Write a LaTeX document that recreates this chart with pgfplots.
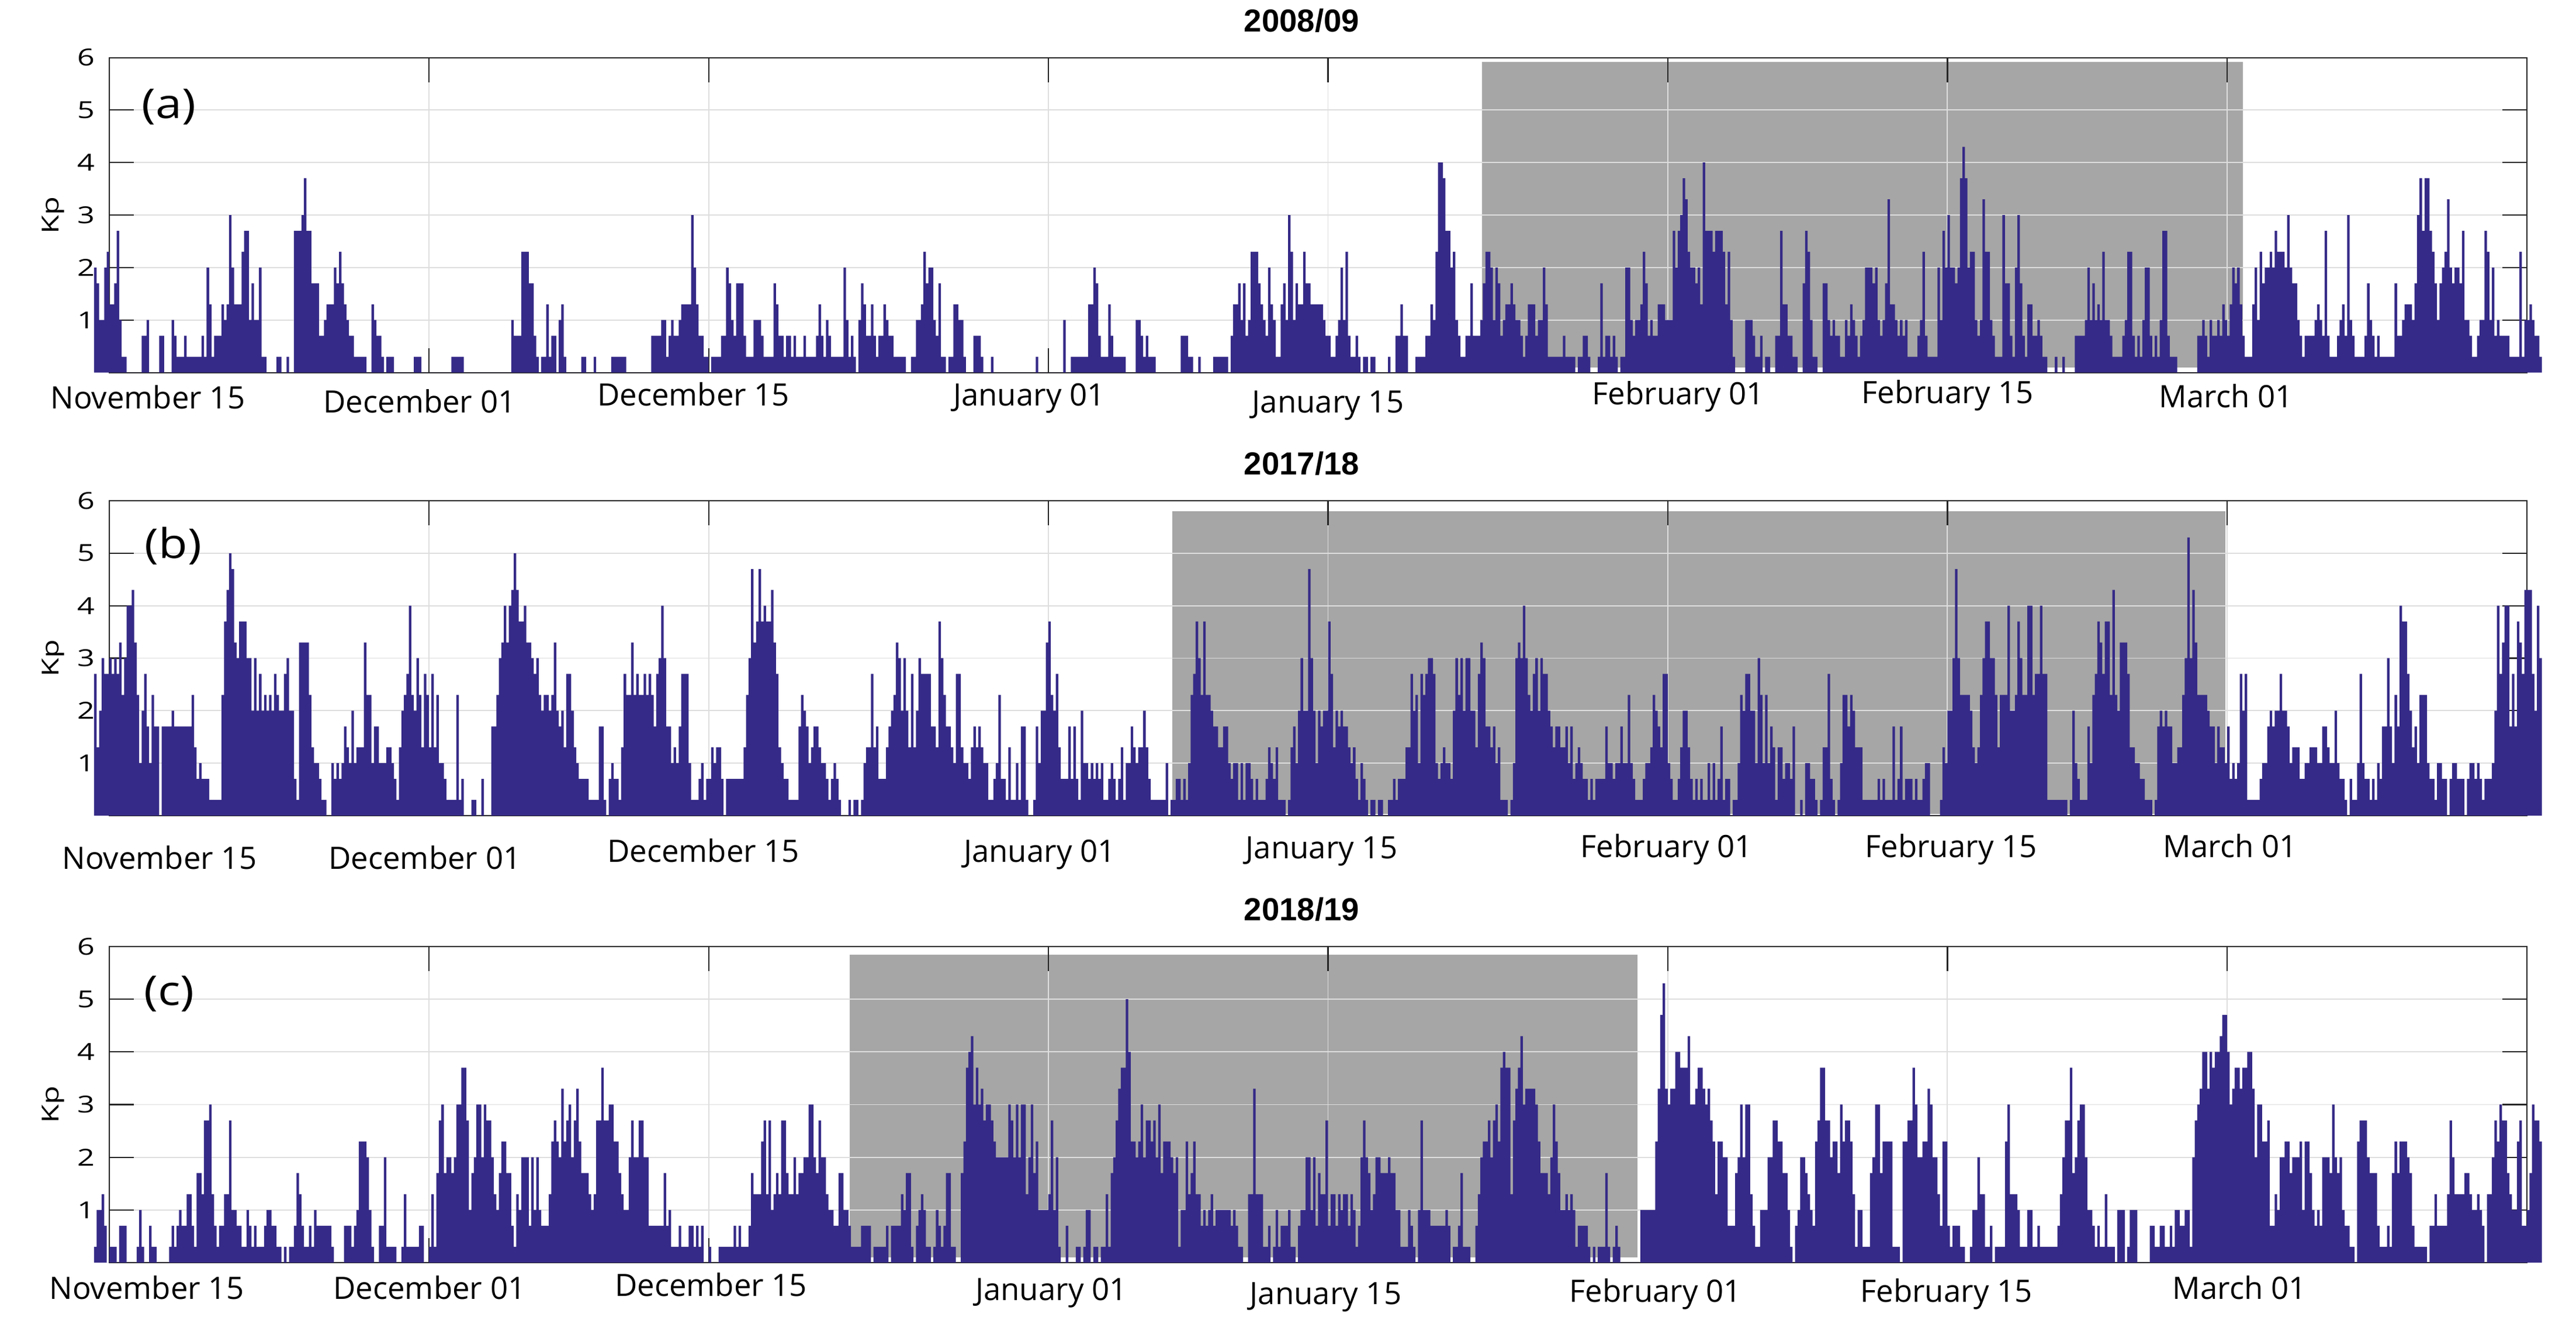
\documentclass[border=0pt]{standalone}
\usepackage{fontspec}
\setmainfont{Open Sans}
\newfontfamily\tickfont[FakeStretch=1.3]{Open Sans}
\newfontfamily\panelfont[FakeStretch=1.15]{Open Sans}
\newfontfamily\titlefont{Liberation Sans}
\usepackage{pgfplots}
\usepackage{pgfplotstable}
\pgfplotsset{compat=1.18}
\definecolor{kpblue}{RGB}{53,42,135}
\definecolor{boxgray}{RGB}{166,166,166}
\definecolor{gridgray}{RGB}{222,222,222}
\definecolor{axisgray}{RGB}{38,38,38}
\newlength\pxu \setlength\pxu{0.01cm}
\newcommand\lab[3]{\raisebox{-#2\pxu}[0pt][0pt]{\makebox[0pt][c]{\hspace*{#1\pxu}\hspace*{#1\pxu}#3}}}

% 3-hourly Kp values, first bin starts at day -0.75 (days counted from November 15)
\pgfplotstableread[row sep=\\,header=false]{
2\\1.7\\1\\1\\2\\2.3\\
1.3\\1.3\\1.7\\2.7\\1\\0.3\\0.3\\0\\
0\\0\\0\\0\\0\\0.7\\0.7\\1\\
0\\0\\0\\0\\0.7\\0.7\\0\\0\\
0\\1\\0.7\\0.3\\0.3\\0.3\\0.7\\0.3\\
0.3\\0.3\\0.3\\0.3\\0.3\\0.7\\0.3\\2\\
1.3\\0.3\\0.7\\0.7\\0.7\\1.3\\1\\1.3\\
3\\2\\1.3\\1.3\\1.3\\2.3\\2.7\\2.7\\
1\\1.7\\1\\1\\2\\0.3\\0.3\\0\\
0\\0\\0\\0.3\\0.3\\0\\0\\0.3\\
0\\0\\2.7\\2.7\\2.7\\3\\3.7\\2.7\\
2.7\\1.7\\1.7\\1.7\\0.7\\0.7\\1\\1.3\\
1.3\\1.3\\2\\1.7\\2.3\\1.7\\1.3\\1\\
0.7\\0.7\\0.3\\0.3\\0.3\\0.3\\0.3\\0\\
0\\1.3\\1\\0.7\\0.7\\0.3\\0\\0.3\\
0.3\\0.3\\0\\0\\0\\0\\0\\0\\
0\\0\\0.3\\0.3\\0.3\\0\\0\\0\\
0\\0\\0\\0\\0\\0\\0\\0\\
0\\0.3\\0.3\\0.3\\0.3\\0.3\\0\\0\\
0\\0\\0\\0\\0\\0\\0\\0\\
0\\0\\0\\0\\0\\0\\0\\0\\
0\\1\\0.7\\0.7\\0.7\\2.3\\2.3\\2.3\\
1.7\\1.7\\0.7\\0.3\\0\\0.3\\0.3\\1.3\\
0.3\\0.7\\0.7\\0\\1\\1.3\\0.3\\0\\
0\\0\\0\\0\\0\\0.3\\0.3\\0\\
0\\0\\0.3\\0\\0\\0\\0\\0\\
0\\0.3\\0.3\\0.3\\0.3\\0.3\\0.3\\0\\
0\\0\\0\\0\\0\\0\\0\\0\\
0\\0.7\\0.7\\0.7\\0.7\\1\\1\\0.3\\
0.7\\1\\0.7\\0.7\\1\\1.3\\1.3\\1.3\\
1.3\\3\\2\\1.3\\0.7\\0.7\\0.3\\0.3\\
0\\0.3\\0.3\\0.3\\0.3\\0.7\\0.7\\2\\
1.7\\1\\0.7\\1.7\\1.7\\1.7\\0.7\\0.3\\
0.3\\0.3\\1\\1\\1\\0.7\\0.3\\0.3\\
0.3\\0.3\\1.7\\1.3\\0.7\\0.7\\0.3\\0.7\\
0.7\\0.3\\0.7\\0.3\\0.3\\0.3\\0.7\\0.3\\
0.3\\0.3\\0.3\\0.7\\1.3\\0.7\\0.3\\1\\
0.7\\0.3\\0.3\\0.3\\0.3\\0.3\\2\\1\\
0.3\\0.7\\0.3\\0\\1\\1.7\\1.3\\0.7\\
0.7\\1.3\\0.7\\0.3\\0.7\\0.7\\1.3\\1\\
0.7\\0.7\\0.3\\0.3\\0.3\\0.3\\0.3\\0\\
0\\0.3\\0.3\\1\\1\\1.3\\2.3\\1.7\\
2\\2\\1\\0.7\\1.7\\0.3\\0.3\\0\\
0.3\\0.3\\1.3\\1.3\\1\\1\\0.3\\0\\
0\\0\\0.7\\0.7\\0.7\\0.3\\0\\0\\
0\\0.3\\0\\0\\0\\0\\0\\0\\
0\\0\\0\\0\\0\\0\\0\\0\\
0\\0\\0\\0.3\\0\\0\\0\\0\\
0\\0\\0\\0\\0\\0\\1\\0\\
0\\0.3\\0.3\\0.3\\0.3\\0.3\\0.3\\0.3\\
1.3\\1.3\\2\\1.7\\0.7\\0.3\\0.3\\0.3\\
1.3\\0.7\\0.3\\0.3\\0.3\\0.3\\0.3\\0\\
0\\0\\0\\1\\1\\0.7\\0.3\\0.7\\
0.3\\0.3\\0.3\\0\\0\\0\\0\\0\\
0\\0\\0\\0\\0\\0.7\\0.7\\0.7\\
0.3\\0.3\\0\\0\\0.3\\0\\0\\0\\
0\\0\\0.3\\0.3\\0.3\\0.3\\0.3\\0.3\\
0\\0.7\\1.3\\1.3\\1.7\\1\\1.7\\0.7\\
1\\2.3\\2.3\\2.3\\1.7\\1.3\\1\\0.7\\
2\\1.3\\1\\0.3\\0.3\\1.3\\1.7\\1\\
3\\2.3\\1\\1.7\\1.3\\1.3\\2.3\\1.7\\
1.7\\1.3\\1.3\\1.3\\1.3\\1.3\\1\\0.7\\
0.7\\0.3\\0.3\\0.7\\1\\2\\1\\2.3\\
0.7\\0.3\\0.3\\0.7\\0.3\\0\\0.3\\0.3\\
0\\0.3\\0.3\\0\\0\\0\\0\\0\\
0.3\\0\\0\\0.7\\0.7\\1.3\\0.7\\0.7\\
0\\0\\0\\0.3\\0.3\\0.3\\0.3\\0.7\\
0.7\\1.3\\1\\2.3\\4\\4\\3.7\\2.7\\
2.7\\2\\2.3\\1\\0.7\\0.3\\0.3\\0.7\\
0.7\\1.7\\0.7\\0.7\\0.7\\1\\1.7\\2.3\\
2.3\\2\\1\\2\\1.7\\0.7\\1\\1.3\\
1.3\\1.7\\1.3\\1\\1\\0.7\\0.3\\0.7\\
1.3\\1.3\\1.3\\0.7\\1\\1\\2\\1.3\\
0.3\\0.3\\0.3\\0.3\\0.3\\0.3\\0.7\\0.3\\
0.3\\0.3\\0.3\\0\\0.3\\0.3\\0.7\\0.7\\
0.3\\0\\0\\0\\0.3\\1.7\\0.3\\0.7\\
0.7\\0.3\\0.7\\0.3\\0\\0.3\\0.3\\2\\
2\\1\\0.7\\1\\1\\1.3\\2.3\\1.7\\
0.7\\1\\0.7\\0.7\\1.3\\1.3\\1.3\\1\\
1\\1\\2.7\\2\\2.7\\3\\3.7\\3.3\\
2.3\\2\\2\\1.7\\2\\1.3\\4\\2.7\\
2.7\\2.7\\2.3\\2.7\\2.7\\2.7\\2.3\\1.3\\
2.3\\1\\0.3\\0\\0\\0\\0\\1\\
1\\1\\0.7\\0.3\\0.3\\0.7\\0\\0.3\\
0.3\\0\\0\\0.7\\0.7\\2.7\\1.3\\1.3\\
0.7\\0.7\\0.3\\0.3\\0\\0\\1.7\\2.7\\
2.3\\1\\0.3\\0.3\\0\\0\\1.7\\1.7\\
1\\0.7\\1\\0.7\\0.7\\0.3\\0.3\\1\\
0.7\\1.3\\1\\0.7\\0.3\\0.7\\1\\2\\
2\\2\\1.7\\2\\1\\0.7\\1\\1.7\\
3.3\\1.3\\1.3\\1\\0.7\\1\\0.7\\1\\
0.3\\0.3\\0.3\\0.3\\0.7\\1\\2.3\\0.7\\
0.3\\0.3\\0.3\\0.3\\2\\1\\2.7\\2\\
3\\2\\2\\1.7\\2\\3.7\\4.3\\3.7\\
2\\2.3\\2.3\\1\\0.7\\1\\3.3\\2.3\\
2.3\\1\\0.7\\0.3\\0.3\\0.3\\3\\1.7\\
1.7\\0.7\\0.3\\2\\3\\1.7\\0.7\\0.3\\
1.3\\1.3\\0.7\\0.7\\1\\0.7\\0.3\\0.3\\
0\\0\\0\\0.3\\0\\0\\0.3\\0\\
0\\0\\0\\0.7\\0.7\\0.7\\0.7\\1\\
2\\1\\1.7\\1\\1.3\\1\\2.3\\1\\
1\\0.7\\0.3\\0.3\\0.3\\0.3\\0.7\\1\\
2.3\\2.3\\0.7\\0.3\\0.7\\0.3\\1\\2\\
2\\0.7\\0.3\\0.7\\0.3\\1\\2.7\\2.7\\
0.7\\0.3\\0.3\\0.3\\0\\0\\0\\0\\
0\\0\\0\\0\\0.7\\0.7\\1\\0.7\\
0.3\\1\\0.7\\0.7\\1\\0.7\\1.3\\1\\
0.7\\1.3\\2\\1.7\\2\\1.3\\0.7\\0.3\\
0.3\\0.3\\1.3\\2\\1\\2.3\\1.7\\2\\
2\\2.3\\2\\2.7\\2.3\\2.3\\2.3\\2\\
3\\2\\1.7\\1.7\\1\\0.7\\0.3\\0.7\\
0.7\\0.7\\0.7\\1\\1.3\\1\\0.7\\2.7\\
0.7\\0.3\\0.3\\0.3\\0.7\\1\\1.3\\0.7\\
3\\1\\0.7\\0.3\\0.3\\0.3\\0.3\\0.7\\
1.7\\1\\0.7\\0.3\\0.7\\0.3\\0.3\\0.3\\
0.3\\0.3\\0.3\\1.7\\0.7\\0.7\\1\\1.3\\
1.3\\1.3\\1\\1.7\\3\\3.7\\2.7\\3.7\\
3.7\\2.7\\2.3\\1.7\\1\\1.7\\2\\2.3\\
3.3\\2\\1.7\\2\\2\\1.7\\2.7\\1\\
1\\0.7\\0.3\\0.3\\0.7\\1\\1\\2.7\\
2.3\\1\\2\\0.7\\1\\0.7\\0.7\\0.7\\
0.7\\0.3\\0.3\\0.3\\0.3\\2.3\\0.3\\1\\
1\\1.3\\1\\0.7\\0.7\\0.3\\
0\\
}\dataA

\pgfplotstableread[row sep=\\,header=false]{
2.7\\1.3\\2\\3\\2.7\\2.7\\
3\\2.7\\3\\2.7\\3.3\\2.3\\3\\4\\
4\\4.3\\3.3\\2.3\\1\\2\\2.7\\1.7\\
1\\2.3\\1.7\\1.7\\0\\1.7\\1.7\\1.7\\
1.7\\2\\1.7\\1.7\\1.7\\1.7\\1.7\\1.7\\
1.7\\2.3\\1.3\\0.7\\1\\0.7\\0.7\\0.7\\
0.3\\0.3\\0.3\\0.3\\0.3\\2.3\\3.7\\4.3\\
5\\4.7\\3.3\\3\\3.7\\3.7\\3.7\\3\\
3\\2\\3\\2\\2.7\\2\\2.3\\2\\
2.3\\2\\2.7\\2.3\\2\\2\\2.7\\3\\
2\\2\\0.7\\0.3\\3.3\\3.3\\3.3\\3.3\\
2.3\\1.3\\1\\1\\0.7\\0.3\\0.3\\0\\
0\\1\\0.7\\1\\0.7\\1\\1.7\\1.3\\
1\\2\\1\\1.3\\1.3\\1.3\\3.3\\2.3\\
2.3\\1\\1.7\\1.7\\1\\1\\1\\1.3\\
1.3\\1\\0.7\\0.3\\1.3\\2\\2.3\\2.7\\
4\\2.3\\2\\3\\2.3\\1.3\\2.7\\2.3\\
1.3\\2.7\\1.3\\2.3\\1\\1\\0.7\\0.3\\
0.3\\0.3\\0.3\\2.3\\0.3\\0.7\\0\\0\\
0\\0.3\\0.3\\0\\0\\0.7\\0\\0\\
0\\1.7\\1.7\\2.3\\3\\3.3\\4\\3.3\\
4\\4.3\\5\\4.3\\3.7\\3.7\\4\\3.3\\
3.3\\3\\2.7\\3\\2.3\\2\\2.3\\2.3\\
2\\2.3\\3.3\\2\\1.7\\2\\1.3\\2.7\\
2.7\\2\\1.3\\1\\0.7\\0.7\\0.7\\0.7\\
0.3\\0.3\\0.3\\0.3\\1.7\\1.7\\0.3\\0\\
0.7\\1\\0.7\\0.7\\0.3\\1.3\\2.7\\2.3\\
2.3\\3.3\\2.3\\2.7\\2.3\\2.3\\2.7\\2.3\\
2.7\\2.3\\1.7\\2.7\\3\\4\\3\\1.7\\
1.7\\1\\1.3\\1\\1.7\\2.7\\2.7\\2.7\\
1\\0.3\\0.3\\0.3\\0.7\\1\\0.3\\0.7\\
0.7\\1.3\\1\\1.3\\1.3\\0.7\\0\\0.7\\
0.7\\0.7\\0.7\\0.7\\0.7\\0.7\\1.3\\2.3\\
3\\4.7\\3.3\\3.7\\4.7\\3.7\\4\\3.7\\
3.7\\4.3\\3.3\\2.7\\1.3\\1\\0.7\\0.7\\
0.3\\0.3\\0.3\\0.3\\1.7\\2.3\\2\\1.7\\
1\\1.3\\1.7\\1.7\\1.3\\1\\1\\0.7\\
0.3\\0.7\\1\\0.7\\0.3\\0\\0\\0\\
0.3\\0\\0.3\\0.3\\0\\0.3\\1\\1.3\\
1.3\\2.7\\1.3\\1.7\\0.7\\0.7\\0.7\\1.3\\
1.7\\2\\2.3\\3.3\\3\\2\\3\\2\\
1.3\\2.7\\1.3\\2\\3\\2.7\\2.7\\2.7\\
2.7\\1.7\\1.7\\1.3\\3.7\\3\\2.3\\1.7\\
1.7\\1.3\\1\\2.7\\2.7\\1.3\\1\\1\\
0.7\\1.3\\1.7\\1.3\\1.7\\1.3\\1\\1\\
0.3\\0.3\\0.7\\1\\2.3\\0.7\\0.7\\0.3\\
1.3\\0.3\\0.3\\1\\0.3\\1.7\\1.7\\0.3\\
0\\0\\0.3\\1.7\\1\\2\\2\\3.3\\
3.7\\2.3\\2\\2.7\\1.3\\0.7\\0.7\\0.7\\
1.7\\0.7\\1.7\\0.7\\0.3\\2\\1\\1\\
0.7\\1\\0.7\\1\\0.7\\1\\0.3\\0.3\\
0.7\\1\\0.7\\0.3\\0.7\\1.3\\0.3\\1\\
1\\1.7\\1.3\\1\\1.3\\1.3\\2\\1.3\\
0.7\\0.3\\0.3\\0.3\\0.3\\0.3\\0.3\\1\\
0\\0.3\\0.3\\0.7\\0.7\\0.3\\0.7\\0.3\\
1\\2.3\\2.7\\3.7\\3\\2.3\\3.7\\2.3\\
2.3\\2\\1.7\\1.7\\1.3\\1.3\\1.7\\1.7\\
1\\0.7\\1\\1\\0.3\\1\\0.3\\1\\
1\\0.7\\0.3\\0.7\\0.3\\0.3\\0.3\\0.7\\
1.3\\1\\0.7\\1.3\\0.3\\0.3\\0.3\\0\\
0.3\\1.3\\1.7\\1\\2\\3\\2\\2\\
4.7\\3\\2\\1\\2\\1.7\\2\\2\\
3.7\\2.7\\1.3\\2\\1.7\\2\\1.7\\1.7\\
1.3\\1\\1.3\\0.7\\0.3\\1\\0.7\\0.3\\
0\\0.3\\0.3\\0\\0.3\\0.3\\0\\0\\
0.3\\0.3\\0.7\\0.3\\0.7\\0.7\\0.7\\1.3\\
1.3\\2.7\\2\\2.3\\1\\2.7\\2.3\\2.7\\
3\\3\\2.7\\1\\0.7\\1\\1.3\\1\\
1\\0.7\\2\\3\\2.3\\3\\2\\3\\
3\\2\\2\\1.3\\2.7\\3.3\\3\\1.7\\
1.7\\1.3\\1.7\\1\\1.3\\0.3\\0.3\\0.3\\
0\\0.3\\1\\3\\3.3\\3\\4\\3\\
2.3\\2\\2.7\\3\\2\\3\\2.7\\2.7\\
2\\1.7\\1.3\\1.7\\1.7\\1.3\\1.3\\1.7\\
1\\1.7\\0.7\\1\\1.3\\1\\0.7\\0.7\\
0.3\\0.7\\0.3\\0.7\\0.7\\0.7\\0.7\\1.7\\
1\\1\\0.7\\1\\1\\1.7\\1\\1\\
2.3\\1\\0.7\\0.3\\0.3\\0.3\\0.7\\1\\
1\\1.3\\2.3\\2\\1.7\\1.3\\2.7\\2.7\\
1\\0.7\\0.3\\0.3\\0.7\\1.3\\2\\2\\
1.3\\0.7\\0.3\\0.7\\0.3\\0.7\\0.3\\0.3\\
1\\0.3\\1\\0.3\\0.7\\1.7\\0.3\\0.7\\
0.7\\0\\0.3\\0.3\\1\\2.3\\2\\2.7\\
2.7\\2\\2\\1\\3\\2.3\\1\\2.3\\
1\\1.7\\1.3\\0.3\\1.3\\1.3\\0.7\\1\\
1\\0.7\\1.7\\0\\0\\0.3\\0\\1\\
1\\0.7\\0.7\\0.3\\0\\0.3\\1.3\\1.3\\
2.7\\0.7\\0.3\\0\\0.3\\1\\2.3\\2.3\\
1.7\\2.3\\2\\1.3\\1.3\\1.3\\0.3\\0.3\\
0.3\\0.3\\0.3\\0.3\\0.7\\0.3\\0.7\\0.3\\
0.3\\0.3\\1.7\\0.3\\0.7\\1.7\\0.3\\0.7\\
0.7\\0.7\\0.3\\0.7\\0.3\\0.3\\0.7\\1\\
1\\0\\0\\0\\0\\0.3\\1.3\\1\\
2\\2\\3\\4.7\\3\\2.3\\2.3\\2.3\\
2.3\\2\\1.3\\1\\1.3\\2.3\\3\\3.7\\
3.7\\3\\3\\2.3\\1.3\\2.3\\2.3\\2.3\\
4\\2\\2\\2.3\\3.7\\3\\2.3\\2.3\\
4\\4\\2.3\\2.7\\2.7\\4\\2.7\\2.7\\
0.3\\0.3\\0.3\\0.3\\0.3\\0.3\\0.3\\0.3\\
0\\0.3\\2\\1\\0.7\\0.3\\0.3\\0.3\\
1.7\\1\\2.3\\2.7\\3.7\\3.3\\2.7\\3.7\\
3.7\\2.3\\4.3\\2.3\\2\\3.3\\3.3\\3.3\\
2.7\\1.3\\1.3\\1\\1\\0.7\\0.7\\0.3\\
0.3\\0.3\\0\\0.3\\1.7\\2\\1.7\\2\\
1.7\\1.7\\1\\1\\1.3\\1.3\\2.3\\3\\
5.3\\3\\4.3\\3.3\\2.3\\2.3\\2.3\\2.3\\
2\\1.7\\1.7\\1\\1.7\\1.3\\1.3\\1\\
1.7\\0.7\\1\\0.7\\1\\2.7\\2\\2.7\\
0.3\\0.3\\0.3\\0.3\\0.3\\0.7\\1\\1\\
1.7\\2\\1.7\\2\\2\\2.7\\2\\2\\
1.7\\1\\1.3\\1.3\\1.3\\0.7\\0.7\\1\\
1\\1.3\\1.3\\1.3\\1\\1\\1.7\\1.7\\
1.3\\1\\1\\2\\1\\0.7\\0.7\\0.3\\
0\\0.7\\0.3\\0.3\\1\\2.7\\1\\0.7\\
0.7\\0.3\\0.7\\0.3\\1\\0.7\\1.7\\1.7\\
3\\1.7\\1\\2.3\\1.7\\4\\3.7\\3.7\\
2.7\\2\\1.3\\1.7\\1\\2.3\\2.3\\2.3\\
1\\0.7\\0.7\\0.3\\1\\1\\0.7\\0.7\\
0\\0.7\\1\\1\\0.7\\0.7\\0.7\\0\\
0.7\\1\\1\\0.7\\1\\0.7\\0.3\\0.7\\
0.7\\0.7\\1\\2\\4\\2.7\\3.3\\4\\
4\\1.7\\2.7\\1.7\\3.7\\3.3\\2.7\\4.3\\
4.3\\4.3\\2.7\\2\\4\\3\\
0\\
}\dataB

\pgfplotstableread[row sep=\\,header=false]{
0.3\\1\\1\\1.3\\0.7\\0\\
0.3\\0.3\\0.3\\0\\0.7\\0.7\\0.7\\0\\
0\\0\\0\\0.3\\1\\0.3\\0\\0\\
0.7\\0.3\\0.3\\0\\0\\0\\0\\0\\
0.3\\0.7\\0.3\\0.7\\1\\0.7\\0.7\\1.3\\
1.3\\0.7\\0.3\\1.7\\1.7\\1.3\\2.7\\2.7\\
3\\1.3\\0.7\\0.3\\0.7\\0.7\\1.3\\1.3\\
2.7\\1\\1\\0.7\\0.7\\0.3\\0.3\\1\\
0.7\\0.3\\0.7\\0.3\\0.3\\0.3\\0.7\\1\\
1\\0.7\\0.7\\0.3\\0.3\\0\\0.3\\0\\
0.3\\0.3\\0.7\\1.7\\1.3\\0.7\\0.3\\0.3\\
0.7\\0.3\\1\\0.7\\0.7\\0.7\\0.7\\0.7\\
0.7\\0.3\\0\\0\\0\\0\\0.7\\0.7\\
0.7\\0.3\\0.7\\1\\2.3\\2.3\\2.3\\2\\
1\\0.3\\0\\0\\0.7\\0.7\\2\\0.3\\
0.3\\0.3\\0.3\\0\\0\\0.3\\1.3\\0.3\\
0.3\\0.3\\0.3\\0.3\\0.7\\0.7\\0\\0\\
0.3\\1.3\\0.3\\1.7\\2.7\\3\\1.7\\2\\
2\\1.7\\2\\3\\3\\3.7\\3.7\\2.7\\
1\\1.7\\2\\3\\3\\2\\3\\2.7\\
2.7\\2\\1.3\\1\\1.7\\2.3\\2.3\\1.7\\
1.7\\0.7\\0.3\\1.3\\1\\2\\2\\2\\
0.7\\2\\1\\2\\1\\0.7\\0.7\\0.7\\
1.3\\2.3\\2.7\\2.3\\2\\3.3\\2.3\\2.7\\
3\\2\\2.7\\3.3\\2.3\\1.7\\1.7\\1.7\\
1.3\\1\\1.3\\2.7\\2.7\\3.7\\2.7\\2.7\\
3\\3\\2.3\\2.3\\1.7\\1.3\\1\\1\\
2\\2.7\\2\\2\\2.7\\2.7\\2\\2\\
0.7\\0.7\\0.7\\0.7\\0.7\\0.7\\1.7\\0.7\\
1\\0.3\\0.3\\0.3\\0.7\\0.3\\0.3\\0.3\\
0.7\\0.7\\0.3\\0.7\\0.3\\0.7\\0\\0\\
0.3\\0\\0\\0\\0.3\\0.3\\0.3\\0.3\\
0.3\\0.3\\0.7\\0.3\\0.7\\0.3\\0.3\\0.3\\
0.7\\1.7\\1.3\\1.3\\1.3\\2.3\\2.7\\1.3\\
2.7\\1\\1.3\\1.7\\1.3\\2.7\\2.7\\1.7\\
1.3\\1.3\\2\\1.3\\1.7\\1.7\\2\\2\\
3\\3\\2\\1.7\\2.7\\2\\2\\1.3\\
1\\1\\0.7\\0.7\\1.7\\1.7\\1\\1\\
0.7\\0.3\\0.3\\0.3\\0.3\\0.7\\0.7\\0.7\\
0.7\\0\\0.3\\0.3\\0.3\\0.3\\0.3\\0.7\\
0\\0.7\\0.7\\0.7\\0.7\\1.3\\1\\1.7\\
1.7\\0.3\\0\\0.7\\1\\1.3\\1\\0.3\\
0.3\\0\\0.3\\1\\0.7\\0.3\\0.7\\1.7\\
1.7\\0.3\\0.3\\0\\0\\1.7\\2.3\\3.7\\
4\\4.3\\3\\3.7\\3\\3.3\\2.7\\3\\
3\\2.7\\2.3\\2\\2\\2\\2\\2\\
3\\2.7\\2\\3\\2\\3\\3\\1.3\\
2\\3\\1.7\\2.3\\1\\1\\1\\1\\
1.3\\2.7\\1\\2\\0.3\\0\\0\\0.7\\
0\\0\\0\\0.3\\0.3\\0\\0.3\\1\\
1\\0\\0.3\\0.3\\0\\0.3\\0.3\\1.3\\
0.3\\1.7\\2\\2.7\\3.3\\3.7\\3.7\\5\\
4\\2.3\\2.3\\2\\2.3\\3\\2\\2.7\\
2.7\\2.3\\2.7\\2\\3\\1.7\\2.3\\2.3\\
2.3\\2\\1.7\\2\\0.3\\1\\1\\2.3\\
1.3\\1.7\\2.3\\1.3\\1.3\\0.7\\1\\0.7\\
1\\1.3\\0.7\\1\\1\\1\\1\\1\\
1\\0.7\\1\\0.7\\0.3\\0.3\\0\\0\\
1.3\\1.3\\3.3\\1.3\\1.3\\1.3\\0.3\\0.3\\
0.7\\0\\0.3\\1\\0.3\\0.7\\0.7\\0.7\\
1\\0.3\\0.3\\0\\0.7\\1\\1\\2\\
2\\1\\2\\0.7\\1.7\\1.3\\1.3\\2.7\\
0.7\\1.3\\1.3\\0.7\\1.3\\1\\1.3\\1.3\\
0.7\\1.3\\1\\0.3\\0.7\\2\\2.7\\2\\
1.7\\1\\1.3\\2\\2\\1.7\\1.7\\1.7\\
2\\1.7\\1.7\\1\\1\\0.3\\0.3\\0.3\\
1\\0.7\\0.3\\0\\1\\2.7\\1\\1\\
1\\0.7\\0.7\\0.7\\0.7\\0.7\\0.7\\1\\
0.7\\0\\0.3\\0.3\\0.7\\1.7\\0.3\\0.3\\
0.3\\0\\0\\0.7\\1.3\\2\\2.3\\2.3\\
2.7\\2\\2.7\\3\\2.3\\3.7\\4\\3.7\\
3.7\\1.3\\2.7\\3.3\\3.7\\4.3\\3\\3.3\\
3.3\\3.3\\3.3\\3\\2.3\\1.7\\1.7\\1.7\\
1.3\\2\\3\\2.3\\1.7\\1\\1\\1.3\\
1\\1.3\\1\\0.3\\0.7\\0.7\\0.7\\0.7\\
0.3\\0\\0.3\\0\\0.3\\0.3\\0.3\\1.7\\
0.3\\0\\0.3\\0.7\\0.3\\0\\0\\0\\
0\\0\\0\\0\\0\\1\\1\\1\\
1\\1\\1\\2.3\\3.3\\4.7\\5.3\\3.3\\
3\\3.3\\3.3\\4\\4\\3.7\\3.7\\3.7\\
4.3\\3\\3\\3.3\\3.7\\3.7\\3.3\\3\\
3.3\\2.7\\2.3\\1.3\\2.3\\2.3\\2\\2\\
0.7\\0.7\\0.7\\1.7\\2\\3\\2\\3\\
3\\1.3\\0.7\\0.3\\0.3\\1\\1\\1\\
2\\2\\2.7\\2.7\\2.3\\2.3\\1.7\\1.7\\
1\\0.3\\0\\0.7\\1\\2\\2\\1.7\\
1.3\\1\\0.7\\2.3\\2.7\\3.7\\3.7\\2.7\\
2.7\\2\\2.3\\2.3\\1.7\\3\\2.3\\2.7\\
2.7\\2.3\\1.3\\0.3\\1\\1\\0.3\\0.3\\
0.3\\1.7\\2\\3\\3\\1.7\\2.3\\2.3\\
2.3\\2.3\\0.3\\0.3\\0.3\\0\\2.3\\2.3\\
2.7\\2.7\\3.7\\3\\2\\2\\2.3\\2.3\\
3.3\\3\\2\\2\\1.3\\0.7\\2.3\\2.3\\
0.7\\0.3\\0.7\\0.7\\0.7\\0.3\\0.3\\0\\
0\\0.3\\1\\1\\2\\1.3\\1.3\\0.3\\
0.3\\0.7\\0\\0.3\\0.3\\0.3\\0.3\\2.3\\
3\\1.3\\1.3\\1.3\\1\\0.3\\0.3\\0.3\\
1\\1\\0.3\\0.3\\0.7\\0.3\\0.3\\0.3\\
0.3\\0.3\\0.3\\0.3\\0.7\\1.3\\2\\2.7\\
2.7\\3.7\\1.7\\2\\2.7\\3\\3\\2\\
1\\1\\0.7\\0.3\\0.7\\0.3\\0.3\\1.3\\
0.3\\0.3\\0.3\\0\\1\\1\\1\\0\\
0.3\\1\\1\\1\\0\\0\\0\\0\\
0\\0.7\\0.7\\0.3\\0.3\\0.7\\0.7\\0.3\\
0.3\\0.7\\0.3\\1\\1\\0.7\\0.7\\1\\
1\\0.3\\2\\2.7\\3\\3.3\\4\\4\\
3.3\\4\\3.7\\4\\4\\4.3\\4.7\\4.7\\
4\\3\\3.3\\3.7\\3.7\\3.3\\3.7\\3.7\\
4\\4\\3.3\\2\\3\\3\\2.3\\2.3\\
2.7\\0.7\\0.7\\1.3\\1\\2\\2\\2.3\\
2.3\\1.7\\2\\2\\2\\2.3\\1\\2.3\\
2.3\\1.7\\1\\0.7\\1\\0.7\\2\\2\\
2\\1.7\\3\\2\\1.7\\2\\1\\0.7\\
0.7\\0.3\\0.3\\0\\2.3\\2.7\\2.7\\2.7\\
2\\1.7\\1.7\\1.7\\0.7\\0.3\\0.3\\0.3\\
0.7\\0.3\\1.7\\2.3\\1.7\\2.3\\2.3\\2.3\\
2\\1.7\\0.7\\0.3\\0.3\\0.3\\0.3\\0.3\\
0\\0.7\\0.7\\1.3\\0.7\\0.7\\0.7\\0.7\\
1.3\\2.7\\2\\1.3\\1.3\\1.3\\1.3\\1.7\\
1.7\\1.3\\1\\1\\1.3\\1\\0.7\\0\\
1.3\\1.3\\2\\2.7\\2.3\\3\\2.7\\2.7\\
1.7\\1.3\\1\\1\\2.3\\2.7\\0.7\\0.7\\
1\\1.7\\3\\2.7\\2.7\\2.3\\
0\\
}\dataC

\pgfplotsset{
  kpaxis/.style={
    set layers,
    scale only axis, width=41.372cm,
    xmin=0, xmax=121, ymin=0, ymax=6,
    xtick={0,16,30,47,61,78,92,106},
    ytick={1,2,3,4,5,6},
    tick align=inside, major tick length=0.42cm,
    xtick pos=both, ytick pos=both,
    grid=major,
    major grid style={gridgray, line width=0.55pt},
    axis line style={axisgray, line width=0.6pt},
    tick style={axisgray, line width=0.6pt},
    clip=false,
    xticklabel style={font=\fontsize{15}{18}\selectfont, anchor=base, inner sep=0pt, text=black},
    yticklabel style={font=\tickfont\fontsize{11.4}{13}\selectfont, anchor=east, inner sep=0pt, xshift=-24\pxu, text=black},
    /pgf/number format/assume math mode=true,
    ylabel={Kp},
    ylabel style={font=\tickfont\fontsize{11.4}{13}\selectfont, at={(axis description cs:0,0.5)}, anchor=center, yshift=96\pxu},
    title style={font=\titlefont\bfseries\fontsize{15.5}{18}\selectfont, at={(axis description cs:0.5,1)}, anchor=base, yshift=23\pxu, xshift=-28\pxu},
  },
  kpbars/.style={const plot, fill=kpblue, draw=none},
  kpbox/.style={fill=boxgray, draw=none, on layer=axis background},
}

\begin{document}
\begin{tikzpicture}
\path (0,0) rectangle (44.08cm,22.78cm);

% ---------------- (a) 2008/09
\begin{axis}[kpaxis, at={(1.868cm,16.404cm)}, anchor=south west, height=5.39cm,
  title={2008/09},
  xticklabels={\lab{66}{62}{November 15},\lab{-16}{69}{December 01},\lab{-26}{57}{December 15},\lab{-33}{57}{January 01},\lab{0}{69}{January 15},\lab{18}{55}{February 01},\lab{0}{53}{February 15},\lab{-2}{60}{March 01}}]
\addplot[kpbox] coordinates {(68.7,0.1) (106.8,0.1) (106.8,5.92) (68.7,5.92)};
\addplot[kpbars] table[x expr=\coordindex*0.125-0.75, y index=0] {\dataA} \closedcycle;
\node[font=\panelfont\fontsize{20}{24}\selectfont, inner sep=0pt] at (axis cs:3,5.06) {(a)};
\end{axis}

% ---------------- (b) 2017/18
\begin{axis}[kpaxis, at={(1.868cm,8.82cm)}, anchor=south west, height=5.39cm,
  title={2017/18},
  xticklabels={\lab{86}{92}{November 15},\lab{-7}{92}{December 01},\lab{-9}{80}{December 15},\lab{-15}{80}{January 01},\lab{-11}{74}{January 15},\lab{-2}{72}{February 01},\lab{6}{72}{February 15},\lab{5}{72}{March 01}}]
\addplot[kpbox] coordinates {(53.2,0.03) (105.9,0.03) (105.9,5.8) (53.2,5.8)};
\addplot[kpbars] table[x expr=\coordindex*0.125-0.75, y index=0] {\dataB} \closedcycle;
\node[font=\panelfont\fontsize{20}{24}\selectfont, inner sep=0pt] at (axis cs:3.2,5.14) {(b)};
\end{axis}

% ---------------- (c) 2018/19
\begin{axis}[kpaxis, at={(1.868cm,1.17cm)}, anchor=south west, height=5.41cm,
  title={2018/19},
  xticklabels={\lab{64}{63}{November 15},\lab{1}{63}{December 01},\lab{4}{58}{December 15},\lab{5}{65}{January 01},\lab{-4}{72}{January 15},\lab{-21}{68}{February 01},\lab{-2}{68}{February 15},\lab{21}{63}{March 01}}]
\addplot[kpbox] coordinates {(37.07,0.1) (76.5,0.1) (76.5,5.84) (37.07,5.84)};
\addplot[kpbars] table[x expr=\coordindex*0.125-0.75, y index=0] {\dataC} \closedcycle;
\node[font=\panelfont\fontsize{20}{24}\selectfont, inner sep=0pt] at (axis cs:3,5.10) {(c)};
\end{axis}
\end{tikzpicture}
\end{document}
